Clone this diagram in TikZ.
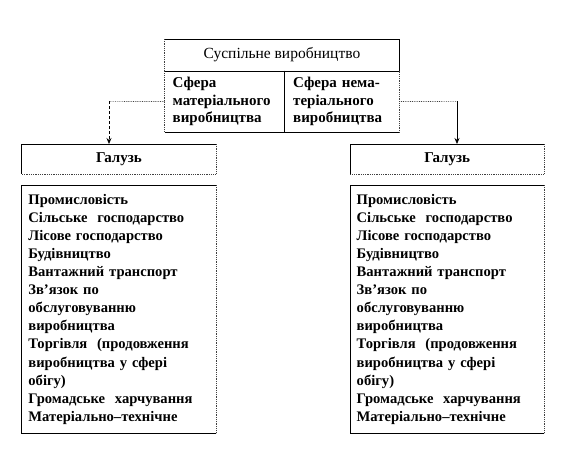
\documentclass[tikz,border=0pt]{standalone}
\usepackage{fontspec}
\setmainfont{Liberation Serif}
\usetikzlibrary{arrows.meta}
\begin{document}
\begin{tikzpicture}[x=1pt,y=-1pt,
  cell/.style={draw=none,anchor=north west,inner ysep=0pt,align=left,font=\fontsize{15}{17.5}\selectfont\bfseries},
  listbox/.style={draw=none,anchor=north west,inner xsep=6.5pt,inner ysep=0pt,align=left,
    text width=181pt,minimum width=194pt,minimum height=248pt,font=\fontsize{14.6}{18.1}\selectfont\bfseries},
  galbox/.style={draw=none,anchor=north west,minimum width=194pt,minimum height=29.5pt,font=\fontsize{15}{18}\selectfont\bfseries},
  solidedge/.style={line width=0.8pt,black},
  dotedge/.style={line width=0.8pt,black!75,densely dotted},
  arr/.style={line width=0.7pt,-{Stealth[length=6pt,width=5pt]}}
]
\useasboundingbox (0,0) rectangle (565,452);

% top box
\node[draw=none,anchor=north west,minimum width=234.5pt,minimum height=31.7pt,
  font=\fontsize{15.5}{18}\selectfont] (title) at (164.5,39) {Суспільне виробництво};
\node[cell,minimum width=119.5pt,minimum height=61.3pt,inner xsep=8pt,text width=103.5pt] (sm) at (164.5,70.7)
  {Сфера\\матеріального\\виробництва};
\node[cell,minimum width=115pt,minimum height=61.3pt,inner xsep=9pt,text width=97pt] (sn) at (284,70.7)
  {Сфера нема-\\теріального\\виробництва};

\draw[solidedge] (title.north west) -- (title.north east) -- (title.south east);
\draw[dotedge] (title.north west) -- (sm.south west);
\draw[solidedge] (title.south west) -- (title.south east);
\draw[solidedge] (sm.north east) -- (sm.south east);
\draw[solidedge] (sm.south west) -- (sn.south east);
\draw[dotedge] (sn.north east) -- (sn.south east);

% branch boxes
\node[galbox] (gL) at (21.7,144) {Галузь};
\node[galbox] (gR) at (350,144) {Галузь};

\node[listbox] (lL) at (21.7,185) {Промисловість\\Сільське\ \ господарство\\Лісове господарство\\Будівництво\\Вантажний транспорт\\Зв’язок по\\обслуговуванню\\виробництва\\Торгівля\ \ (продовження\\виробництва у сфері\\обігу)\\Громадське\ \ харчування\\Матеріально–технічне};
\node[listbox] (lR) at (350,185) {Промисловість\\Сільське\ \ господарство\\Лісове господарство\\Будівництво\\Вантажний транспорт\\Зв’язок по\\обслуговуванню\\виробництва\\Торгівля\ \ (продовження\\виробництва у сфері\\обігу)\\Громадське\ \ харчування\\Матеріально–технічне};

\foreach \b in {gL,gR} {
  \draw[solidedge] (\b.south west) -- (\b.north west) -- (\b.north east);
  \draw[dotedge] (\b.north east) -- (\b.south east) -- (\b.south west);
}
\foreach \b in {lL,lR} {
  \draw[solidedge] (\b.north east) -- (\b.north west) -- (\b.south west) -- (\b.south east);
  \draw[dotedge] (\b.north east) -- (\b.south east);
}

% connectors
\coordinate (kL) at (109,101.35);
\coordinate (kR) at (457,101.35);
\draw[dotedge,line width=0.7pt] (sm.west) -- (kL);
\draw[arr,densely dashed] (kL) -- (kL |- gL.north);
\draw[dotedge,line width=0.7pt] (sn.east) -- (kR);
\draw[arr] (kR) -- (kR |- gR.north);
\end{tikzpicture}
\end{document}
